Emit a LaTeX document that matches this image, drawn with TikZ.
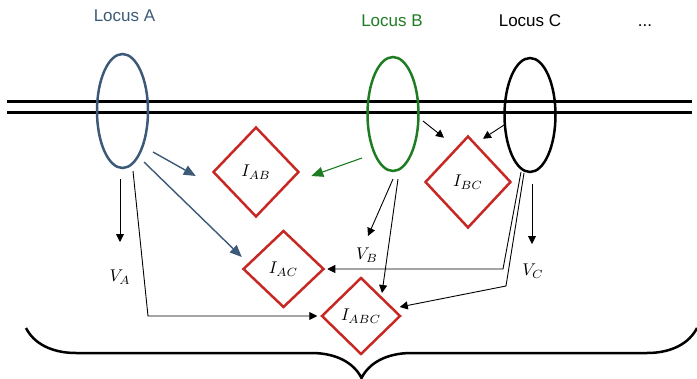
\documentclass[tikz,border=0pt]{standalone}
\usepackage{graphicx}
\usepackage{fontspec}
\setmainfont{Liberation Sans}
\usetikzlibrary{shapes.geometric,arrows.meta,decorations.pathreplacing,calc}
\definecolor{slatec}{RGB}{60,90,120}
\definecolor{greenc}{RGB}{30,125,35}
\definecolor{redc}{RGB}{200,40,35}
\newcommand{\mylbl}[1]{\scalebox{1.7}{$#1$}}
\begin{document}
\begin{tikzpicture}[x=1pt,y=-1pt,
  locus/.style={ellipse,draw,line width=2.5pt,inner sep=0pt,minimum width=51pt,minimum height=114pt},
  dia/.style={diamond,draw=redc,line width=2.5pt,inner sep=0pt},
  lbl/.style={inner sep=0pt},
  title/.style={font=\fontsize{17}{20}\selectfont,anchor=base,inner sep=0pt},
  blk/.style={-{Triangle[length=8pt,width=8pt]},line width=0.9pt},
  big/.style={-{Triangle[length=12pt,width=10pt]},line width=1.4pt},
  chrom/.style={line width=3pt}]
\useasboundingbox (0,0) rectangle (697,378);

% titles
\node[title,text=slatec] (tA) at (124.5,21) {Locus A};
\node[title,text=greenc] (tB) at (392,26) {Locus B};
\node[title] (tC) at (530,26) {Locus C};
\node[title] (tD) at (645,26) {...};

% chromosome lines
\draw[chrom] (7,101) -- (692,101);
\draw[chrom] (7,112) -- (692,112);

% loci
\node[locus,draw=slatec] (A) at (122.5,111) {};
\node[locus,draw=greenc] (B) at (393,114) {};
\node[locus,draw=black] (C) at (530,115) {};

% interaction diamonds
\node[dia,minimum width=86pt,minimum height=90pt] (IAB) at (256,172) {\mylbl{I_{AB}}};
\node[dia,minimum width=86pt,minimum height=92pt] (IBC) at (468,182) {\mylbl{I_{BC}}};
\node[dia,minimum width=81pt,minimum height=77pt] (IAC) at (283.5,269) {\mylbl{I_{AC}}};
\node[dia,minimum width=79pt,minimum height=77pt] (IABC) at (361,316) {\mylbl{I_{ABC}}};

% V labels
\node[lbl] (VA) at (120,277) {\mylbl{V_A}};
\node[lbl] (VB) at (367,255) {\mylbl{V_B}};
\node[lbl] (VC) at (533,271) {\mylbl{V_C}};

% helper coordinates for elbow connectors
\coordinate (cA) at ($(A)+(25.5,0)$);
\coordinate (cC) at ($(C)+(-27,0)$);

% Locus A connectors
\draw[blk] ($(A)+(-2.5,68)$) -- ($(VA)+(0,-35)$);
\draw[big,draw=slatec,fill=slatec] ($(A)+(30.5,41)$) -- ($(IAB.west)+(-16,4)$);
\draw[big,draw=slatec,fill=slatec] ($(A)+(21.5,51)$) -- ($(IAC.west)+(0,-12)$);
\draw[blk,shorten >=3pt] ($(A)+(10.5,60)$) -- (cA |- IABC.west) -- (IABC.west);

% Locus B connectors
\draw[big,draw=greenc,fill=greenc,line width=1.1pt] ($(B)+(-31,44)$) -- ($(IAB.east)+(11,4)$);
\draw[blk] ($(B)+(30,7)$) -- ($(IBC.north)+(-24,3)$);
\draw[blk] ($(B)+(0,65)$) -- ($(VB)+(1,-19)$);
\draw[blk] ($(B)+(5,65)$) -- ($(IABC)+(21,-23)$);

% Locus C connectors
\draw[blk] ($(C)+(-26,10)$) -- ($(IBC.north)+(15,4)$);
\draw[blk,shorten >=2pt] ($(C)+(-9,57)$) -- (cC |- IAC.east) -- (IAC.east);
\draw[blk] ($(C)+(-6,58)$) -- ($(C)+(-24,171)$) -- ($(IABC.east)+(-2,-9)$);
\draw[blk] ($(C)+(2,69)$) -- ($(VC)+(-1,-27)$);

% brace
\draw[line width=2.5pt,decorate,decoration={brace,amplitude=50pt}] (697,328) -- (26,328);
\end{tikzpicture}
\end{document}
